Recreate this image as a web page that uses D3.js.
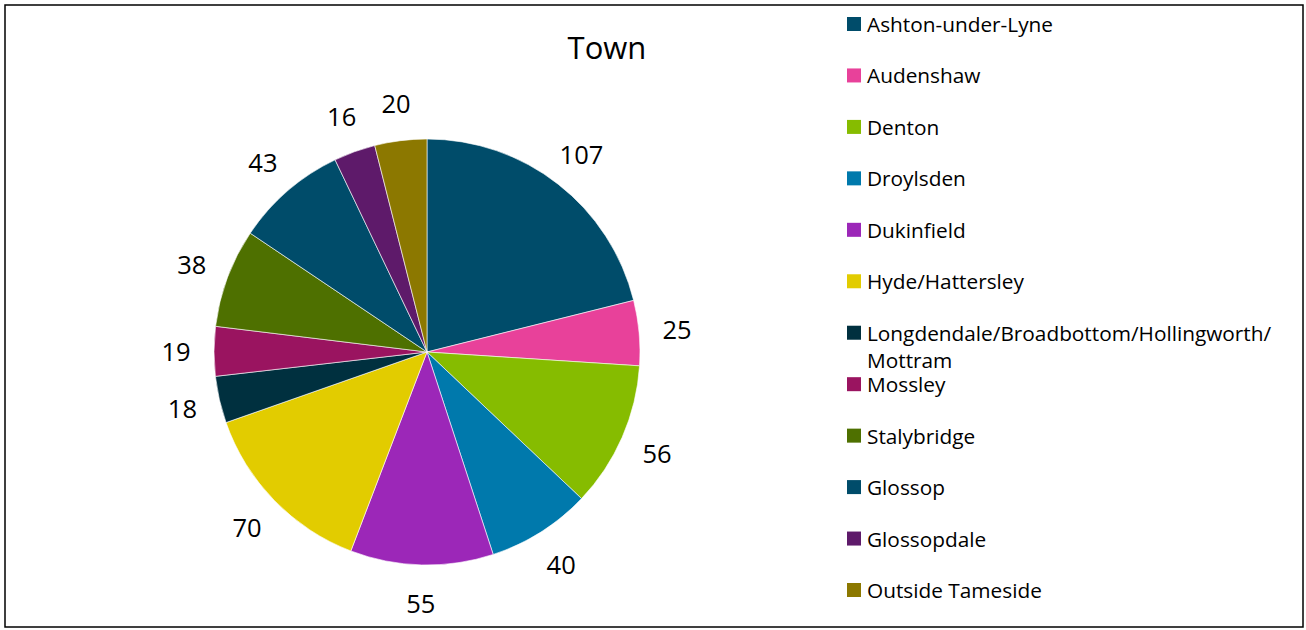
<!DOCTYPE html>
<html><head><meta charset="utf-8">
<script src="https://cdn.jsdelivr.net/npm/d3@7"></script>
<style>html,body{margin:0;padding:0;background:#fff;} svg{display:block;font-family:"Open Sans","Noto Sans",sans-serif;}</style>
</head><body><svg id="c" width="1306" height="630"></svg>
<script>
const title = "Town";
const categories = ["Ashton-under-Lyne","Audenshaw","Denton","Droylsden","Dukinfield","Hyde/Hattersley","Longdendale/Broadbottom/Hollingworth/\nMottram","Mossley","Stalybridge","Glossop","Glossopdale","Outside Tameside"];
const values = [107,25,56,40,55,70,18,19,38,43,16,20];
const colors = ["#004C6A","#E8419A","#86BC00","#0079AC","#9C27B8","#E2CC00","#00303F","#9A1460","#4E7000","#004C6A","#5E1A6A","#8C7800"];

const svg = d3.select("#c");
svg.append("rect").attr("x",5).attr("y",5).attr("width",1298).attr("height",622)
  .attr("fill","#fff").attr("stroke","#000").attr("stroke-width",1.5);

const cx = 427, cy = 352, r = 213;
const pie = d3.pie().sort(null).value(d=>d)(values);
const arc = d3.arc().innerRadius(0).outerRadius(r);
const labelArc = d3.arc().innerRadius(251).outerRadius(251);
const g = svg.append("g").attr("transform",`translate(${cx},${cy})`);
g.selectAll("path").data(pie).join("path")
  .attr("d",arc).attr("fill",(d,i)=>colors[i])
  .attr("stroke","#fff").attr("stroke-width",0.6);
g.selectAll("text").data(pie).join("text")
  .attr("transform",d=>{const c=labelArc.centroid(d);return `translate(${c[0]},${c[1]})`;})
  .attr("text-anchor","middle").attr("dominant-baseline","central")
  .attr("font-size",25.5).attr("fill","#000").text(d=>d.data);

svg.append("text").attr("x",607).attr("y",47).attr("text-anchor","middle")
  .attr("dominant-baseline","central").attr("font-size",31).attr("fill","#000").text(title);

const legendY = d3.scalePoint().domain(d3.range(categories.length)).range([24,590]);
const lg = svg.append("g");
categories.forEach((c,i)=>{
  const y = legendY(i);
  lg.append("rect").attr("x",847).attr("y",y-7).attr("width",14).attr("height",14).attr("fill",colors[i]);
  const lines = c.split("\n");
  const t = lg.append("text").attr("x",867).attr("y",y).attr("font-size",20.8).attr("fill","#000")
    .attr("dominant-baseline","central");
  lines.forEach((l,j)=>t.append("tspan").attr("x",867).attr("dy",j===0?0:27).text(l));
});
</script></body></html>
